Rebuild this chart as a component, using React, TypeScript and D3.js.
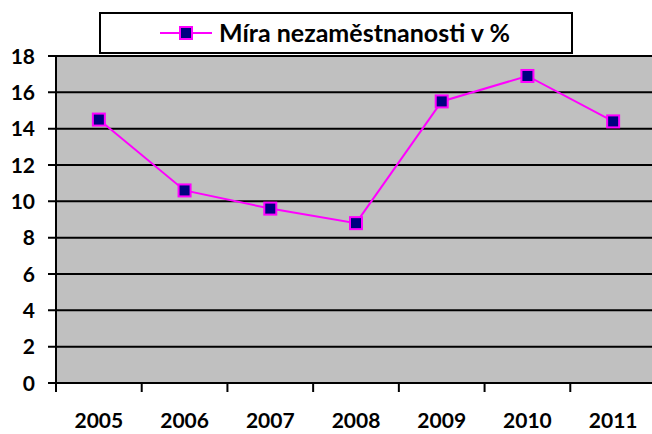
import React, { useEffect, useRef } from "react";
import * as d3 from "d3";

const years = ["2005", "2006", "2007", "2008", "2009", "2010", "2011"];
const unemployment = [14.5, 10.6, 9.6, 8.8, 15.5, 16.9, 14.4];
const yTicks = [0, 2, 4, 6, 8, 10, 12, 14, 16, 18];
const seriesName = "Míra nezaměstnanosti v %";

const width = 652;
const height = 434;
const font = "Lato, 'Open Sans', sans-serif";

export default function App() {
  const ref = useRef<SVGSVGElement>(null);

  useEffect(() => {
    const svg = d3.select(ref.current);
    svg.selectAll("*").remove();

    const left = 56;
    const top = 56;
    const bottom = 383;
    const right = 656;

    const x = d3.scaleBand<string>().domain(years).range([left, right]);
    const y = d3.scaleLinear().domain([0, 18]).range([bottom, top]);

    // plot area
    svg
      .append("rect")
      .attr("x", left)
      .attr("y", top)
      .attr("width", right - left)
      .attr("height", bottom - top)
      .style("fill", "#C0C0C0");

    svg
      .append("line")
      .attr("x1", left)
      .attr("x2", right)
      .attr("y1", top - 0.5)
      .attr("y2", top - 0.5)
      .style("stroke", "#808080")
      .style("stroke-width", 1);

    // gridlines
    svg
      .selectAll("line.grid")
      .data(yTicks)
      .enter()
      .append("line")
      .attr("class", "grid")
      .attr("x1", left - 8)
      .attr("x2", right)
      .attr("y1", (d) => y(d))
      .attr("y2", (d) => y(d))
      .style("stroke", "#000")
      .style("stroke-width", 2);

    // y axis line
    svg
      .append("line")
      .attr("x1", left)
      .attr("x2", left)
      .attr("y1", top)
      .attr("y2", bottom + 9)
      .style("stroke", "#000")
      .style("stroke-width", 2);

    // x ticks
    svg
      .selectAll("line.xt")
      .data(years)
      .enter()
      .append("line")
      .attr("class", "xt")
      .attr("x1", (d) => (x(d) as number) + x.bandwidth())
      .attr("x2", (d) => (x(d) as number) + x.bandwidth())
      .attr("y1", bottom)
      .attr("y2", bottom + 9)
      .style("stroke", "#000")
      .style("stroke-width", 2);

    // y labels
    svg
      .selectAll("text.yl")
      .data(yTicks)
      .enter()
      .append("text")
      .attr("class", "yl")
      .attr("x", 35)
      .attr("y", (d) => y(d))
      .attr("dy", "0.36em")
      .attr("text-anchor", "end")
      .style("font-family", font)
      .style("font-weight", "bold")
      .style("font-size", "21px")
      .text((d) => d);

    // x labels
    svg
      .selectAll("text.xl")
      .data(years)
      .enter()
      .append("text")
      .attr("class", "xl")
      .attr("x", (d) => (x(d) as number) + x.bandwidth() / 2)
      .attr("y", 420)
      .attr("dy", "0.36em")
      .attr("text-anchor", "middle")
      .style("font-family", font)
      .style("font-weight", "bold")
      .style("font-size", "21px")
      .text((d) => d);

    // line
    const cx = (i: number) => (x(years[i]) as number) + x.bandwidth() / 2;
    const line = d3
      .line<number>()
      .x((d, i) => cx(i))
      .y((d) => y(d));

    svg
      .append("path")
      .attr("d", line(unemployment))
      .style("fill", "none")
      .style("stroke", "#FF00FF")
      .style("stroke-width", 2);

    svg
      .selectAll("rect.mk")
      .data(unemployment)
      .enter()
      .append("rect")
      .attr("class", "mk")
      .attr("x", (d, i) => cx(i) - 6)
      .attr("y", (d) => y(d) - 6)
      .attr("width", 12)
      .attr("height", 12)
      .style("fill", "#000080")
      .style("stroke", "#FF00FF")
      .style("stroke-width", 2);

    // legend
    const lg = svg.append("g");
    lg.append("rect")
      .attr("x", 100)
      .attr("y", 13)
      .attr("width", 472)
      .attr("height", 40)
      .style("fill", "#fff")
      .style("stroke", "#000")
      .style("stroke-width", 2);
    lg.append("line")
      .attr("x1", 160)
      .attr("x2", 212)
      .attr("y1", 33)
      .attr("y2", 33)
      .style("stroke", "#FF00FF")
      .style("stroke-width", 2);
    lg.append("rect")
      .attr("x", 180)
      .attr("y", 27)
      .attr("width", 12)
      .attr("height", 12)
      .style("fill", "#000080")
      .style("stroke", "#FF00FF")
      .style("stroke-width", 2);
    lg.append("text")
      .attr("x", 219)
      .attr("y", 33)
      .attr("dy", "0.36em")
      .style("font-family", font)
      .style("font-weight", "bold")
      .style("font-size", "25px")
      .text(seriesName);
  }, []);

  return (
    <div style={{ position: "absolute", left: 0, top: 0, background: "#fff" }}>
      <svg ref={ref} width={width} height={height} style={{ display: "block" }} />
    </div>
  );
}
